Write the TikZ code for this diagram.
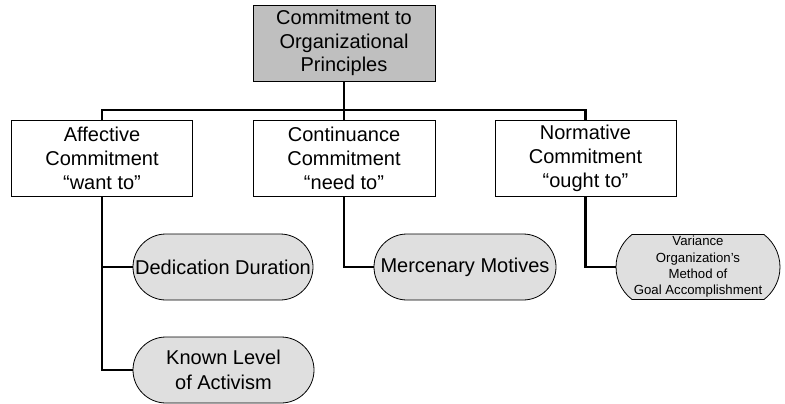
\documentclass[tikz,border=0pt]{standalone}
\usepackage{fontspec}
\setmainfont{Liberation Sans}
\usetikzlibrary{shapes.misc}
\begin{document}
\begin{tikzpicture}[x=1pt, y=-1pt]
        \tikzstyle{head} = [draw, fill=gray!50, line width=0.8pt, minimum width=182pt, minimum height=76pt, align=center, inner sep=1pt, font=\fontsize{20}{23.5}\selectfont]
        \tikzstyle{kind} = [draw, fill=white, line width=0.8pt, minimum width=181pt, minimum height=76pt, align=center, inner sep=1pt, font=\fontsize{20}{24}\selectfont]
        \tikzstyle{leaf} = [draw, rounded rectangle, fill=gray!25, line width=0.8pt, minimum height=66pt, align=center, inner sep=1pt, font=\fontsize{20}{24.5}\selectfont]
        \tikzstyle{link} = [line width=2.6pt]
        \useasboundingbox (0, 0) rectangle (785, 404);
        \node[head] (P) at (344, 43) {Commitment to\\Organizational\\Principles};
        \node[kind] (A) at (102, 158) {Affective\\Commitment\\“want to”};
        \node[kind, minimum width=182pt] (C) at (344, 158) {Continuance\\Commitment\\“need to”};
        \node[kind] (N) at (585.5, 158) {Normative\\Commitment\\“ought to”};
        \node[leaf, minimum width=182pt] (D) at (223, 267) {Dedication Duration};
        \node[leaf, minimum width=183pt] (K) at (223.5, 370) {Known Level\\of Activism};
        \node[leaf, minimum width=184pt] (M) at (465, 267) {Mercenary Motives};
        \node[leaf, minimum width=164pt, minimum height=65pt, inner xsep=0pt, rounded rectangle arc length=105, font=\fontsize{13.2}{16.3}\selectfont] (V) at (698, 267) {Variance\\Organization’s\\Method of\\Goal Accomplishment};
        \coordinate (bus) at (344, 110);
        \draw[link] (P) -- (C);
        \draw[link] (A.north) |- (bus) -| (N.north);
        \draw[link] (A.south) |- (D.west);
        \draw[link] (A.south) |- (K.west);
        \draw[link] (C.south) |- (M.west);
        \draw[link] (N.south) |- (V.west);
      \end{tikzpicture}
\end{document}
